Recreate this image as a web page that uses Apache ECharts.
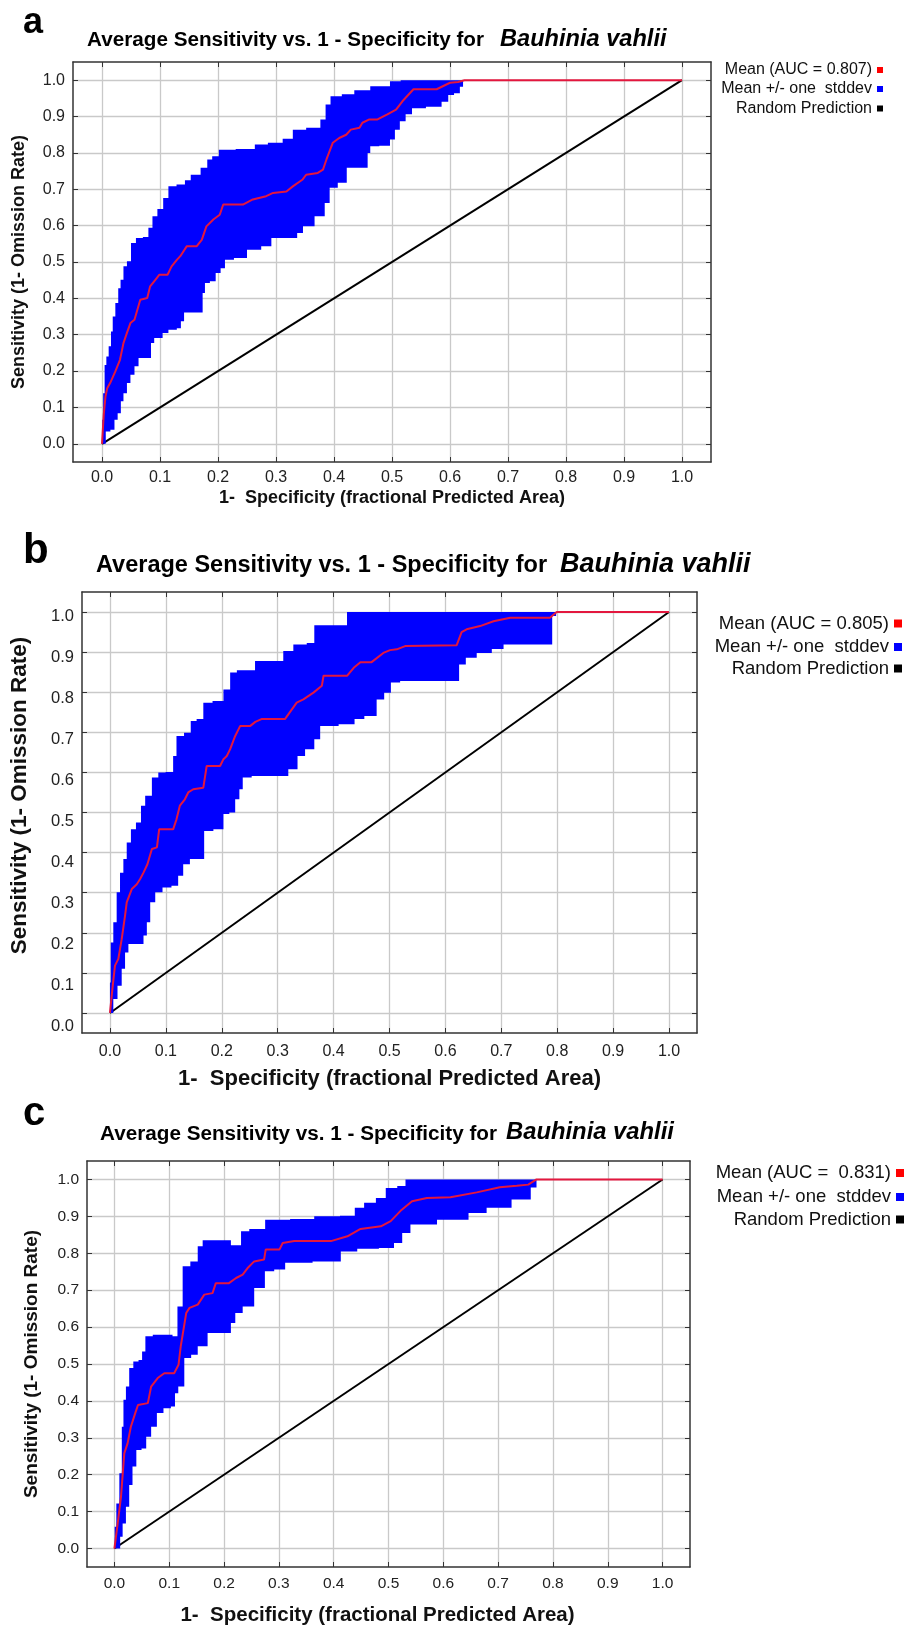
<!DOCTYPE html>
<html>
<head>
<meta charset="utf-8">
<script src="https://cdn.jsdelivr.net/npm/echarts@6.0.0/dist/echarts.min.js"></script>
<style>
  html, body { margin: 0; padding: 0; background: #fff; }
  #chart { width: 904px; height: 1627px; }
</style>
</head>
<body>
<div id="chart"></div>
<script>
const FONT = '"Liberation Sans", Arial, Helvetica, sans-serif';

// tick values shared by every axis
const ticks = [0.0, 0.1, 0.2, 0.3, 0.4, 0.5, 0.6, 0.7, 0.8, 0.9, 1.0];
const diagonal = [[0, 0], [1, 1]];

// panel a
const meanA = [[0,0],[0.003,0.08],[0.006,0.13],[0.009,0.153],[0.014,0.167],[0.023,0.199],[0.031,0.231],[0.037,0.277],[0.043,0.305],[0.049,0.332],[0.056,0.341],[0.066,0.396],[0.078,0.401],[0.083,0.433],[0.092,0.451],[0.099,0.465],[0.113,0.465],[0.12,0.488],[0.129,0.506],[0.135,0.516],[0.146,0.543],[0.163,0.543],[0.172,0.561],[0.18,0.598],[0.192,0.617],[0.203,0.63],[0.209,0.658],[0.243,0.658],[0.26,0.672],[0.283,0.681],[0.295,0.69],[0.318,0.694],[0.329,0.708],[0.346,0.727],[0.352,0.74],[0.372,0.745],[0.381,0.754],[0.387,0.782],[0.398,0.828],[0.409,0.841],[0.421,0.85],[0.429,0.864],[0.444,0.869],[0.449,0.883],[0.461,0.892],[0.475,0.892],[0.492,0.906],[0.507,0.919],[0.518,0.942],[0.537,0.975],[0.577,0.975],[0.6,0.993],[0.614,0.995],[0.625,1],[1,1]];
const upperA = [[0,0],[0.001,0.066],[0.003,0.139],[0.006,0.217],[0.009,0.24],[0.014,0.268],[0.017,0.309],[0.02,0.35],[0.026,0.387],[0.03,0.428],[0.034,0.451],[0.04,0.488],[0.046,0.502],[0.054,0.552],[0.063,0.566],[0.078,0.569],[0.082,0.594],[0.092,0.626],[0.099,0.646],[0.112,0.676],[0.117,0.708],[0.14,0.713],[0.146,0.725],[0.16,0.74],[0.18,0.759],[0.183,0.782],[0.197,0.791],[0.206,0.809],[0.255,0.811],[0.272,0.823],[0.3,0.828],[0.323,0.839],[0.335,0.864],[0.369,0.869],[0.384,0.892],[0.387,0.933],[0.401,0.956],[0.426,0.961],[0.444,0.972],[0.481,0.983],[0.512,0.997],[0.518,1]];
const lowerA = [[0.004,0],[0.009,0.034],[0.02,0.039],[0.023,0.066],[0.031,0.084],[0.034,0.117],[0.04,0.139],[0.046,0.167],[0.052,0.19],[0.06,0.213],[0.066,0.236],[0.083,0.236],[0.086,0.277],[0.094,0.291],[0.103,0.291],[0.106,0.305],[0.123,0.314],[0.135,0.318],[0.137,0.337],[0.146,0.361],[0.172,0.361],[0.175,0.415],[0.18,0.442],[0.192,0.447],[0.2,0.47],[0.209,0.483],[0.215,0.506],[0.24,0.511],[0.26,0.534],[0.289,0.543],[0.295,0.566],[0.332,0.566],[0.341,0.58],[0.352,0.598],[0.381,0.626],[0.387,0.662],[0.398,0.704],[0.415,0.718],[0.429,0.759],[0.455,0.759],[0.461,0.8],[0.464,0.818],[0.492,0.82],[0.501,0.837],[0.509,0.864],[0.518,0.887],[0.529,0.906],[0.54,0.923],[0.577,0.927],[0.594,0.941],[0.6,0.959],[0.614,0.964],[0.62,0.982],[0.625,1]];

// panel b
const meanB = [[0,0],[0.005,0.068],[0.009,0.118],[0.015,0.135],[0.021,0.184],[0.027,0.243],[0.03,0.276],[0.039,0.309],[0.048,0.321],[0.054,0.334],[0.06,0.35],[0.067,0.371],[0.075,0.409],[0.084,0.413],[0.088,0.458],[0.113,0.458],[0.119,0.483],[0.125,0.517],[0.134,0.533],[0.14,0.55],[0.149,0.558],[0.167,0.562],[0.173,0.616],[0.197,0.616],[0.203,0.633],[0.209,0.641],[0.215,0.658],[0.224,0.691],[0.233,0.716],[0.251,0.716],[0.26,0.726],[0.271,0.733],[0.313,0.733],[0.334,0.774],[0.346,0.782],[0.364,0.799],[0.379,0.816],[0.382,0.841],[0.424,0.841],[0.436,0.861],[0.448,0.875],[0.468,0.875],[0.489,0.898],[0.501,0.905],[0.513,0.907],[0.528,0.915],[0.62,0.917],[0.629,0.95],[0.638,0.957],[0.662,0.965],[0.686,0.977],[0.716,0.986],[0.787,0.986],[0.799,1],[1,1]];
const upperB = [[0,0],[0,0.076],[0.003,0.176],[0.009,0.226],[0.015,0.301],[0.021,0.35],[0.027,0.384],[0.033,0.425],[0.042,0.458],[0.051,0.475],[0.06,0.517],[0.066,0.542],[0.084,0.587],[0.089,0.6],[0.11,0.601],[0.116,0.641],[0.122,0.691],[0.143,0.699],[0.146,0.728],[0.164,0.733],[0.17,0.774],[0.197,0.778],[0.209,0.807],[0.221,0.849],[0.233,0.855],[0.251,0.855],[0.268,0.878],[0.304,0.878],[0.316,0.903],[0.34,0.919],[0.364,0.923],[0.367,0.967],[0.418,0.967],[0.43,1]];
const lowerB = [[0.003,0],[0.009,0.035],[0.018,0.068],[0.024,0.11],[0.03,0.151],[0.036,0.172],[0.057,0.172],[0.063,0.193],[0.069,0.226],[0.075,0.276],[0.087,0.301],[0.101,0.313],[0.119,0.317],[0.125,0.342],[0.137,0.371],[0.149,0.384],[0.167,0.384],[0.17,0.454],[0.2,0.458],[0.206,0.496],[0.221,0.5],[0.227,0.533],[0.236,0.558],[0.239,0.587],[0.268,0.591],[0.304,0.591],[0.334,0.608],[0.337,0.641],[0.361,0.658],[0.37,0.683],[0.382,0.716],[0.436,0.72],[0.439,0.733],[0.471,0.741],[0.483,0.782],[0.498,0.799],[0.507,0.824],[0.531,0.828],[0.62,0.828],[0.629,0.869],[0.644,0.886],[0.668,0.898],[0.698,0.908],[0.71,0.919],[0.785,0.919],[0.797,0.99],[0.799,1]];

// panel c
const meanC = [[0,0],[0.006,0.068],[0.012,0.14],[0.018,0.258],[0.024,0.285],[0.03,0.33],[0.038,0.367],[0.043,0.389],[0.061,0.394],[0.067,0.439],[0.079,0.462],[0.091,0.475],[0.109,0.475],[0.117,0.498],[0.121,0.548],[0.131,0.638],[0.137,0.652],[0.152,0.661],[0.164,0.688],[0.179,0.692],[0.185,0.719],[0.209,0.719],[0.222,0.733],[0.234,0.742],[0.243,0.76],[0.255,0.778],[0.273,0.783],[0.276,0.81],[0.301,0.81],[0.307,0.828],[0.328,0.833],[0.395,0.833],[0.425,0.846],[0.449,0.866],[0.486,0.873],[0.504,0.887],[0.522,0.915],[0.543,0.941],[0.57,0.95],[0.613,0.952],[0.661,0.965],[0.703,0.979],[0.734,0.983],[0.755,0.986],[0.77,1],[1,1]];
const upperC = [[0,0],[0.001,0.059],[0.006,0.122],[0.012,0.204],[0.015,0.33],[0.018,0.403],[0.024,0.439],[0.03,0.489],[0.039,0.507],[0.049,0.511],[0.052,0.534],[0.061,0.575],[0.079,0.579],[0.1,0.579],[0.112,0.575],[0.118,0.656],[0.131,0.765],[0.146,0.778],[0.158,0.819],[0.164,0.835],[0.206,0.835],[0.219,0.822],[0.243,0.86],[0.249,0.866],[0.301,0.891],[0.34,0.893],[0.389,0.9],[0.434,0.902],[0.443,0.923],[0.468,0.937],[0.486,0.95],[0.504,0.977],[0.528,0.982],[0.534,1]];
const lowerC = [[0.009,0],[0.012,0.032],[0.018,0.068],[0.024,0.113],[0.03,0.172],[0.036,0.222],[0.044,0.267],[0.055,0.271],[0.061,0.303],[0.073,0.33],[0.082,0.367],[0.097,0.38],[0.109,0.385],[0.112,0.421],[0.121,0.439],[0.134,0.516],[0.146,0.525],[0.158,0.548],[0.182,0.584],[0.209,0.584],[0.216,0.611],[0.225,0.638],[0.243,0.656],[0.267,0.706],[0.282,0.751],[0.301,0.756],[0.322,0.774],[0.401,0.778],[0.425,0.805],[0.461,0.812],[0.504,0.814],[0.516,0.828],[0.534,0.855],[0.546,0.878],[0.631,0.891],[0.661,0.909],[0.697,0.923],[0.752,0.946],[0.767,0.978],[0.773,1]];

const aucLabels = ['Mean (AUC = 0.807)', 'Mean (AUC = 0.805)', 'Mean (AUC =  0.831)'];
const bandLabel = 'Mean +/- one  stddev';
const randomLabel = 'Random Prediction';
const panelLetters = ['a', 'b', 'c'];
const titleMain = 'Average Sensitivity vs. 1 - Specificity for';
const titleSpecies = 'Bauhinia vahlii';
const xTitle = '1-  Specificity (fractional Predicted Area)';
const yTitle = 'Sensitivity (1- Omission Rate)';

const panels = [
  { mean: meanA, upper: upperA, lower: lowerA,
    grid: { left: 73, top: 62, width: 638, height: 400 },
    xTick: 16, yTick: 16, xMargin: 8,
    xName: { size: 18, gap: 27.5, pad: [0, 0, 0, 0] },
    yName: { size: 18, gap: 44.5, pad: [0, 0, 0, 0] },
    title: { x: 87, y: 40.5, size: 20.7, sx: 500, sy: 39.5, ssize: 23.6 },
    letter: { x: 23, y: 23.5, size: 36 },
    legend: { right: 21, tops: [62, 81, 100.5], size: 16, icon: 6 } },
  { mean: meanB, upper: upperB, lower: lowerB,
    grid: { left: 82, top: 592, width: 615, height: 441 },
    xTick: 16, yTick: 16.5, xMargin: 10.5,
    // the y tick labels in this panel sit a little below their grid lines
    yLabelRange: [-0.0154, 1.0602],
    xName: { size: 22, gap: 35, pad: [0, 0, 0, 0] },
    yName: { size: 22.5, gap: 51, pad: [0, 0, 0, 34] },
    title: { x: 96, y: 566, size: 23.5, sx: 560, sy: 564.6, ssize: 27 },
    letter: { x: 23, y: 551, size: 42 },
    legend: { right: 2, tops: [614, 637.5, 659], size: 18.5, icon: 8 } },
  { mean: meanC, upper: upperC, lower: lowerC,
    grid: { left: 87, top: 1161, width: 603, height: 406 },
    xTick: 15.5, yTick: 15.5, xMargin: 8.5,
    xName: { size: 20.5, gap: 37.5, pad: [0, 22, 0, 0] },
    yName: { size: 19, gap: 45.5, pad: [0, 0, 0, 0] },
    title: { x: 100, y: 1133.8, size: 20.7, sx: 506, sy: 1132.7, ssize: 23.8 },
    letter: { x: 23, y: 1114, size: 40 },
    legend: { right: 0, tops: [1163.5, 1187.5, 1210], size: 18.5, icon: 8 } },
];

const boxLine = { show: true, onZero: false, lineStyle: { color: '#333', width: 1.5 } };
const innerTick = { show: true, inside: true, length: 5, customValues: ticks, lineStyle: { color: '#333', width: 1 } };
const gridLine = { show: true, lineStyle: { color: '#c9c9c9', width: 1.3 } };
const fmt = v => v.toFixed(1);

// split each band edge into square steps, like the original plot
function stepped(pts) {
  const out = [pts[0]];
  for (let k = 1; k < pts.length; k++) {
    const [x0, y0] = pts[k - 1];
    const [x1, y1] = pts[k];
    const xm = (x0 + x1) / 2;
    out.push([xm, y0], [xm, y1], [x1, y1]);
  }
  return out;
}

function bandRenderer(upper, lower) {
  return (params, api) => {
    if (params.dataIndex !== 0) return;
    const pts = stepped(upper).concat(stepped(lower).reverse()).map(p => api.coord(p));
    return { type: 'polygon', shape: { points: pts }, style: { fill: '#0000ff' } };
  };
}

const option = {
  animation: false,
  backgroundColor: '#fff',
  grid: [], xAxis: [], yAxis: [], series: [], legend: [], graphic: [],
};

panels.forEach((p, i) => {
  option.grid.push(p.grid);
  const xi = option.xAxis.length;
  const yi = option.yAxis.length;

  option.xAxis.push({
    type: 'value', gridIndex: i, position: 'bottom', min: -0.05, max: 1.05,
    axisLine: boxLine, axisTick: innerTick, splitLine: gridLine,
    axisLabel: { customValues: ticks, formatter: fmt, margin: p.xMargin, fontSize: p.xTick, color: '#222', fontFamily: FONT },
    name: xTitle, nameLocation: 'middle', nameGap: p.xName.gap,
    nameTextStyle: { fontSize: p.xName.size, fontWeight: 'bold', color: '#111', fontFamily: FONT, padding: p.xName.pad },
  }, {
    type: 'value', gridIndex: i, position: 'top', min: -0.05, max: 1.05,
    axisLine: boxLine, axisTick: innerTick, splitLine: { show: false }, axisLabel: { show: false },
  });

  option.yAxis.push({
    type: 'value', gridIndex: i, position: 'left', min: -0.05, max: 1.05,
    axisLine: boxLine, axisTick: innerTick, splitLine: gridLine,
    axisLabel: p.yLabelRange ? { show: false } :
      { customValues: ticks, formatter: fmt, margin: 8, fontSize: p.yTick, color: '#222', fontFamily: FONT },
    name: yTitle, nameLocation: 'middle', nameRotate: 90, nameGap: p.yName.gap,
    nameTextStyle: { fontSize: p.yName.size, fontWeight: 'bold', color: '#111', fontFamily: FONT, padding: p.yName.pad },
  }, {
    type: 'value', gridIndex: i, position: 'right', min: -0.05, max: 1.05,
    axisLine: boxLine, axisTick: innerTick, splitLine: { show: false }, axisLabel: { show: false },
  });
  if (p.yLabelRange) {
    option.yAxis.push({
      type: 'value', gridIndex: i, position: 'left', min: p.yLabelRange[0], max: p.yLabelRange[1],
      axisLine: { show: false }, axisTick: { show: false }, splitLine: { show: false },
      axisLabel: { customValues: ticks, formatter: fmt, margin: 8, fontSize: p.yTick, color: '#222', fontFamily: FONT },
    });
  }

  option.series.push({
    type: 'line', name: randomLabel, xAxisIndex: xi, yAxisIndex: yi, data: diagonal,
    symbol: 'none', lineStyle: { color: '#000', width: 2 }, itemStyle: { color: '#000' }, z: 2, silent: true,
  }, {
    type: 'custom', name: bandLabel, xAxisIndex: xi, yAxisIndex: yi,
    data: p.upper.concat(p.lower), renderItem: bandRenderer(p.upper, p.lower),
    itemStyle: { color: '#0000ff' }, z: 3, silent: true,
  }, {
    type: 'line', name: aucLabels[i], xAxisIndex: xi, yAxisIndex: yi, data: p.mean,
    symbol: 'none', lineStyle: { color: '#e3173e', width: 2 }, itemStyle: { color: '#ff0000' }, z: 4, silent: true,
  });

  const entries = [[aucLabels[i], '#ff0000'], [bandLabel, '#0000ff'], [randomLabel, '#000000']];
  entries.forEach(([name, color], k) => {
    option.legend.push({
      data: [{ name, itemStyle: { color, borderWidth: 0 } }],
      right: p.legend.right, top: p.legend.tops[k], padding: 0,
      orient: 'vertical', align: 'right', icon: 'rect', selectedMode: false,
      itemWidth: p.legend.icon, itemHeight: p.legend.icon,
      textStyle: { fontSize: p.legend.size, color: '#111', fontFamily: FONT },
    });
  });

  option.graphic.push({
    type: 'text', x: p.letter.x, y: p.letter.y,
    style: { text: panelLetters[i], fontSize: p.letter.size, fontWeight: 'bold', fontFamily: FONT, fill: '#000', verticalAlign: 'middle' },
  }, {
    type: 'text', x: p.title.x, y: p.title.y,
    style: { text: titleMain, fontSize: p.title.size, fontWeight: 'bold', fontFamily: FONT, fill: '#000', verticalAlign: 'middle' },
  }, {
    type: 'text', x: p.title.sx, y: p.title.sy,
    style: { text: titleSpecies, fontSize: p.title.ssize, fontWeight: 'bold', fontStyle: 'italic', fontFamily: FONT, fill: '#000', verticalAlign: 'middle' },
  });
});

const chart = echarts.init(document.getElementById('chart'));
chart.setOption(option);
window.addEventListener('resize', () => chart.resize());
</script>
</body>
</html>
